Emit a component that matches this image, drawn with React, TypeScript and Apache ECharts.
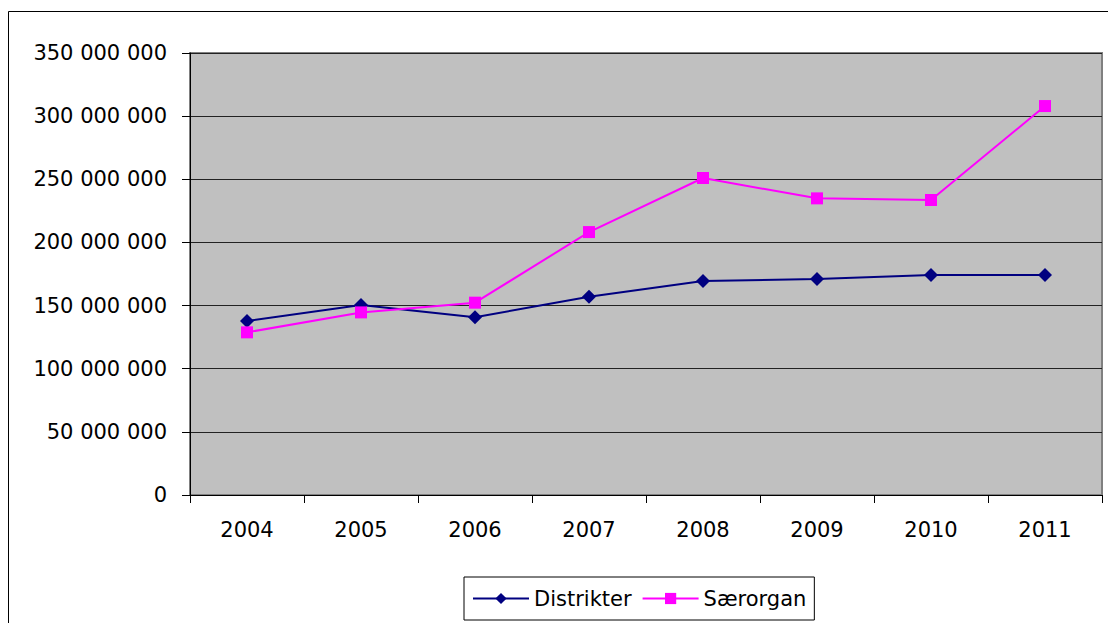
import React, { useEffect, useRef } from "react";
import * as echarts from "echarts";

const years = ["2004", "2005", "2006", "2007", "2008", "2009", "2010", "2011"];
const distrikter = [137800000, 150400000, 140700000, 157000000, 169400000, 171000000, 174200000, 174200000];
const saerorgan = [128800000, 144600000, 152300000, 208200000, 251000000, 234900000, 233600000, 308000000];

const fmt = (v: number) => {
  const s = Math.round(v).toString();
  return s.replace(/\B(?=(\d{3})+(?!\d))/g, " ");
};

export default function App() {
  const ref = useRef<HTMLDivElement>(null);
  useEffect(() => {
    if (!ref.current) return;
    const chart = echarts.init(ref.current, undefined, { renderer: "svg" });
    const font = "'DejaVu Sans', sans-serif";
    chart.setOption({
      animation: false,
      backgroundColor: "#ffffff",
      textStyle: { fontFamily: font },
      graphic: [
        {
          type: "rect",
          shape: { x: 8.5, y: 11.5, width: 1200, height: 700 },
          style: { fill: "none", stroke: "#000", lineWidth: 1 },
          silent: true,
        },
      ],
      grid: {
        left: 190,
        right: 6,
        top: 53,
        bottom: 128,
        show: true,
        backgroundColor: "#c0c0c0",
        borderColor: "#808080",
        borderWidth: 2,
      },
      legend: {
        left: 464,
        top: 577,
        itemWidth: 56,
        itemHeight: 14,
        itemGap: 10,
        padding: [11, 8, 11, 8],
        borderColor: "#000",
        borderWidth: 1,
        textStyle: { fontSize: 21, color: "#000", fontFamily: font },
        data: ["Distrikter", "Særorgan"],
      },
      xAxis: {
        type: "category",
        data: years,
        boundaryGap: true,
        axisLine: { show: true, lineStyle: { color: "#000", width: 1 } },
        axisTick: { show: true, length: 8, lineStyle: { color: "#000" } },
        axisLabel: { fontSize: 21, color: "#000", margin: 24, fontFamily: font },
        splitLine: { show: false },
      },
      yAxis: {
        type: "value",
        min: 0,
        max: 350000000,
        interval: 50000000,
        axisLine: { show: true, lineStyle: { color: "#000", width: 1 } },
        axisTick: { show: true, length: 8, lineStyle: { color: "#000" } },
        axisLabel: { fontSize: 21, color: "#000", margin: 23, fontFamily: font, formatter: fmt },
        splitLine: { show: true, lineStyle: { color: "#222", width: 1 } },
      },
      series: [
        {
          name: "Distrikter",
          type: "line",
          data: distrikter,
          symbol: "diamond",
          symbolSize: 14,
          itemStyle: { color: "#000080" },
          lineStyle: { color: "#000080", width: 2 },
        },
        {
          name: "Særorgan",
          type: "line",
          data: saerorgan,
          symbol: "rect",
          symbolSize: 12,
          itemStyle: { color: "#ff00ff" },
          lineStyle: { color: "#ff00ff", width: 2 },
        },
      ],
    });
    return () => chart.dispose();
  }, []);
  return (
    <div
      ref={ref}
      style={{ position: "fixed", left: 0, top: 0, width: 1108, height: 623 }}
    />
  );
}
